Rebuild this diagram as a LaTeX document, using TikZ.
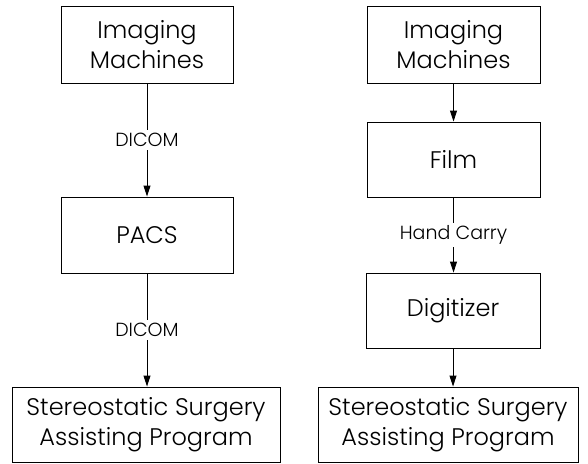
\documentclass[tikz,border=0pt]{standalone}
\usepackage{fontspec}
\setmainfont{Poppins}[UprightFont=* Light]
\usetikzlibrary{arrows.meta}

\begin{document}
\begin{tikzpicture}[x=1pt, y=-1pt,
    box/.style={draw, line width=0.9pt, align=center, inner sep=0pt, font=\fontsize{24}{30}\selectfont},
    lab/.style={fill=white, inner sep=3pt, font=\fontsize{19}{21}\selectfont},
    flow/.style={line width=0.9pt, -{Triangle[length=11pt, width=7pt]}}]
        \useasboundingbox (0,0) rectangle (588,463);
        % Left column: machines -> PACS -> program
        \node[box, minimum width=172pt, minimum height=77pt] (imgL) at (147,44.5) {Imaging\\Machines};
        \node[box, minimum width=172pt, minimum height=76pt] (pacs) at (147,235) {PACS};
        \node[box, minimum width=268pt, minimum height=75pt] (progL) at (146,424.5) {Stereostatic Surgery\\Assisting Program};
        \draw[flow] (imgL.south) -- node[lab] {DICOM} (imgL.south |- pacs.north);
        \draw[flow] (pacs.south) -- node[lab] {DICOM} (pacs.south |- progL.north);
        % Right column: machines -> film -> digitizer -> program
        \node[box, minimum width=173pt, minimum height=77pt] (imgR) at (453.5,44.5) {Imaging\\Machines};
        \node[box, minimum width=173pt, minimum height=75pt] (film) at (453.5,159.5) {Film};
        \node[box, minimum width=174pt, minimum height=75pt] (digit) at (453,310.5) {Digitizer};
        \node[box, minimum width=260pt, minimum height=75pt] (progR) at (448,424.5) {Stereostatic Surgery\\Assisting Program};
        \draw[flow] (imgR.south) -- (imgR.south |- film.north);
        \draw[flow] (film.south) -- node[lab] {Hand Carry} (film.south |- digit.north);
        \draw[flow] (digit.south) -- (digit.south |- progR.north);
\end{tikzpicture}
\end{document}
